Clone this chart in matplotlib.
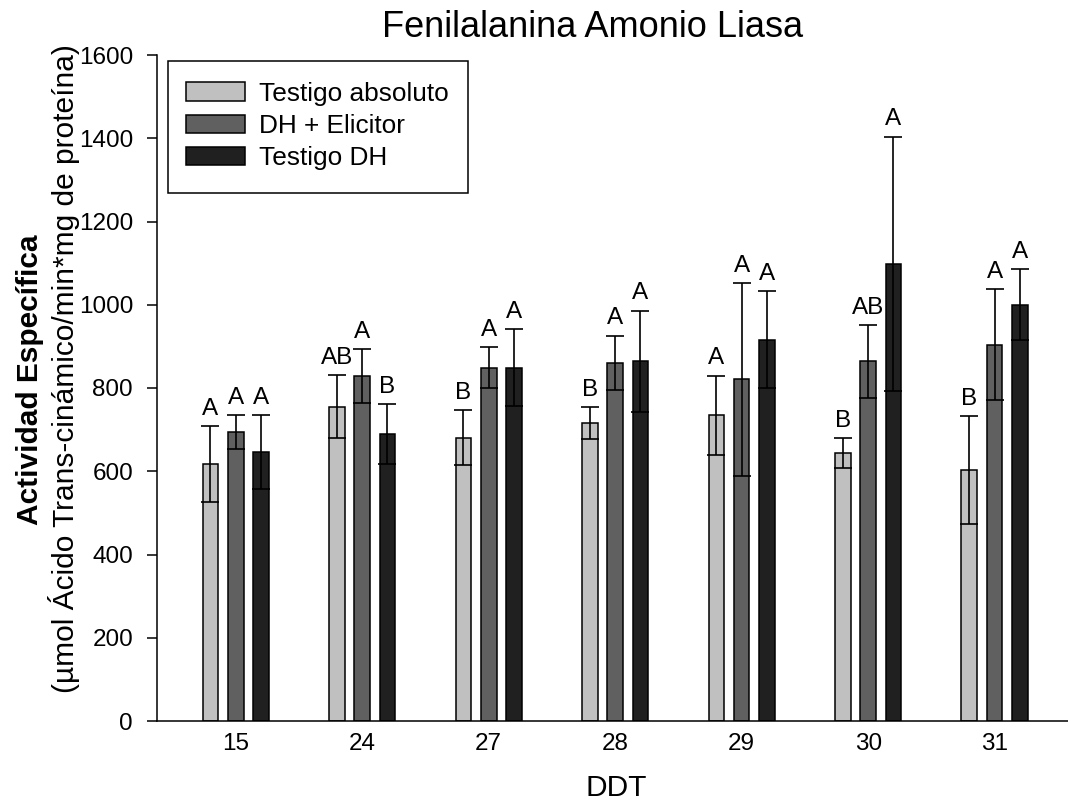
import matplotlib
matplotlib.use("Agg")
import matplotlib.pyplot as plt
import matplotlib.patches as mpatches
import numpy as np

plt.rcParams['font.family'] = ['Liberation Sans', 'DejaVu Sans']

days = ['15', '24', '27', '28', '29', '30', '31']
series_names = ['Testigo absoluto', 'DH + Elicitor', 'Testigo DH']
testigo_abs = [617, 755, 681, 716, 734, 643, 603]
testigo_abs_err = [92, 76, 67, 39, 96, 36, 130]
dh_elicitor = [694, 829, 849, 860, 821, 864, 904]
dh_elicitor_err = [40, 65, 49, 66, 232, 88, 133]
testigo_dh = [646, 689, 849, 864, 916, 1098, 1000]
testigo_dh_err = [88, 72, 93, 122, 117, 306, 85]
letters_abs = ['A', 'AB', 'B', 'B', 'A', 'B', 'B']
letters_elic = ['A', 'A', 'A', 'A', 'A', 'AB', 'A']
letters_dh = ['A', 'B', 'A', 'A', 'A', 'A', 'A']
colors = ['#c0c0c0', '#606060', '#202020']

W, H = 1068, 801
fig = plt.figure(figsize=(W / 100, H / 100), dpi=100)
ax = fig.add_axes([157 / W, (H - 721) / H, (W - 157) / W, (721 - 55) / H])

x = np.arange(len(days))
width = 0.124
offsets = [-0.2, 0.0, 0.2]
vals = [testigo_abs, dh_elicitor, testigo_dh]
errs = [testigo_abs_err, dh_elicitor_err, testigo_dh_err]
letters = [letters_abs, letters_elic, letters_dh]

for k in range(3):
    xs = x + offsets[k]
    ax.bar(xs, vals[k], width=width, color=colors[k], edgecolor='black',
           linewidth=1.1, label=series_names[k], zorder=2)
    ax.errorbar(xs, vals[k], yerr=errs[k], fmt='none', ecolor='black',
                elinewidth=1.2, capsize=6.5, capthick=1.2, zorder=3)
    for xi, v, e, t in zip(xs, vals[k], errs[k], letters[k]):
        ax.annotate(t, (xi, v + e), xytext=(0, 8), textcoords='offset points',
                    ha='center', va='baseline', fontsize=17.5)

ax.set_xlim(-0.622, 6.58)
ax.set_ylim(0, 1600)
ax.set_yticks(np.arange(0, 1601, 200))
ax.set_xticks(x)
ax.set_xticklabels(days)
ax.tick_params(axis='y', length=7.2, width=1.1, labelsize=17.5, pad=10)
ax.tick_params(axis='x', length=0, labelsize=17.5, pad=9)
for s in ['top', 'right']:
    ax.spines[s].set_visible(False)
for s in ['left', 'bottom']:
    ax.spines[s].set_linewidth(1.1)

# legend frame drawn separately for exact box size
frame = mpatches.Rectangle((168 / W, (H - 193) / H), 300 / W, 132 / H,
                           transform=fig.transFigure, fill=False,
                           edgecolor='black', linewidth=1.1, zorder=5)
fig.add_artist(frame)
leg = ax.legend(loc='upper left', bbox_to_anchor=(186 / W, (H - 82) / H),
                bbox_transform=fig.transFigure, borderaxespad=0,
                fontsize=18.9, frameon=False,
                handlelength=2.25, handleheight=0.72, handletextpad=0.53,
                borderpad=0, labelspacing=0.31)

fig.text(593 / W, (H - 37) / H, 'Fenilalanina Amonio Liasa', ha='center',
         va='baseline', fontsize=26)
fig.text(616 / W, (H - 796) / H, 'DDT', ha='center', va='baseline', fontsize=21.5)
fig.text(30 / W, (H - 380) / H, 'Actividad Específica', rotation=90,
         ha='center', va='center', fontsize=21.5, fontweight='bold')
fig.text(64 / W, (H - 369) / H, '(µmol Ácido Trans-cinámico/min*mg de proteína)',
         rotation=90, ha='center', va='center', fontsize=21.5)

fig.savefig('out.png', dpi=100)
